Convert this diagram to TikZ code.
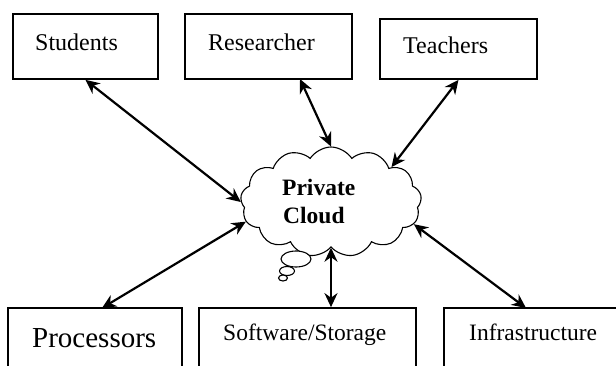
\documentclass[tikz,border=0pt]{standalone}
\usepackage{fontspec}
\setmainfont{Liberation Serif}
\usetikzlibrary{shapes.symbols,shapes.geometric,arrows.meta,calc}
\begin{document}
\begin{tikzpicture}[x=1pt,y=-1pt,
  boxnode/.style={draw,line width=1.7pt,rectangle,inner sep=0pt},
  lbl/.style={anchor=base west,inner sep=0pt,font=\fontsize{24}{28}\selectfont},
  bub/.style={draw,line width=1.1pt,ellipse,inner sep=0pt,fill=white},
  link/.style={line width=2.2pt,{Stealth[length=14pt,width=13pt]}-{Stealth[length=14pt,width=13pt]}}]
\useasboundingbox (0,0) rectangle (616,365);
% top boxes
\node[boxnode,minimum width=145pt,minimum height=65pt] (stu) at (85.5,46.5) {};
\node[boxnode,minimum width=167pt,minimum height=65pt] (res) at (268.5,46.5) {};
\node[boxnode,minimum width=157pt,minimum height=60pt] (tea) at (458.5,49) {};
\node[lbl] (stut) at (35,50) {Students};
\node[lbl] (rest) at (208,50) {Researcher};
\node[lbl] (teat) at (403,53) {Teachers};
% bottom boxes
\node[boxnode,minimum width=174pt,minimum height=66pt] (pro) at (95,341) {};
\node[boxnode,minimum width=217pt,minimum height=66pt] (sw) at (307.5,341) {};
\node[boxnode,minimum width=181pt,minimum height=66pt] (inf) at (534.5,341) {};
\node[lbl,font=\fontsize{29}{33}\selectfont] (prot) at (32,347) {Processors};
\node[lbl,font=\fontsize{23.5}{28}\selectfont] (swt) at (223,340) {Software/Storage};
\node[lbl,font=\fontsize{23.5}{28}\selectfont] (inft) at (469,340) {Infrastructure};
% cloud
\node[cloud,draw,line width=1.1pt,cloud puffs=13,cloud puff arc=115,aspect=1.65,
  minimum width=181pt,minimum height=110pt,inner sep=0pt] (cloud) at (331,202) {};
\node[lbl,font=\fontsize{23.5}{28}\selectfont\bfseries] (ct1) at (282,195) {Private};
\node[lbl,font=\fontsize{23.5}{28}\selectfont\bfseries] (ct2) at (283,223) {Cloud};
% thought bubbles
\node[bub,minimum width=30pt,minimum height=16pt] (b1) at (296,259) {};
\node[bub,minimum width=15pt,minimum height=9pt] (b2) at (287,271) {};
\node[bub,minimum width=9pt,minimum height=6pt] (b3) at (283,278) {};
% connectors
\coordinate (resb) at (300,79);
\coordinate (prob) at (102,308);
\coordinate (infb) at (526,308);
\draw[link] (stu.south) -- (cloud.west);
\draw[link] (resb) -- (cloud.north);
\draw[link] (tea.south) -- (cloud.30);
\draw[link] (prob) -- (cloud.193);
\draw[link] (cloud.south) -- (cloud.south |- sw.north);
\draw[link] (infb) -- (cloud.-15);
\end{tikzpicture}
\end{document}
